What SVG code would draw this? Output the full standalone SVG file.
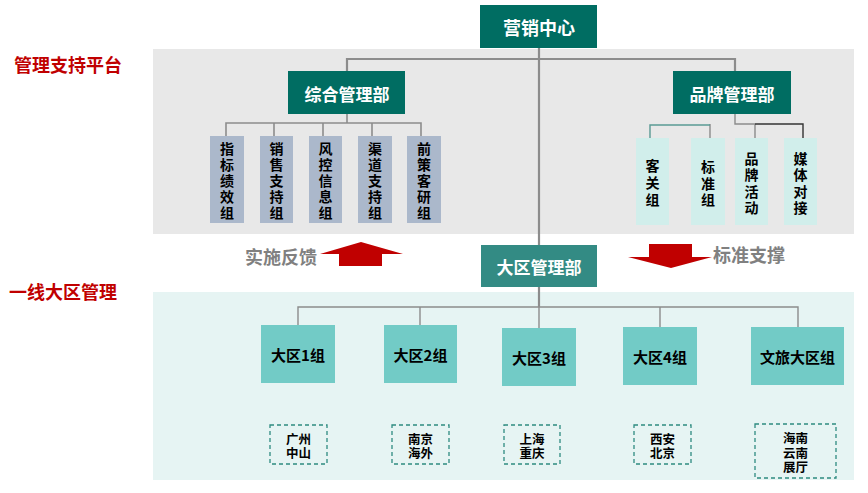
<svg xmlns="http://www.w3.org/2000/svg" width="868" height="493" viewBox="0 0 868 493">
<style>
text{font-family:"Noto Sans CJK SC","Liberation Sans",sans-serif;font-weight:bold;text-anchor:middle;dominant-baseline:central}
.dark{fill:#006D62}
.wt{fill:#fff;font-size:17px}
.sub{fill:#ABB8CB}
.cy{fill:#D1EEEB}
.reg{fill:#72CBC6}
.bk{fill:#000;font-size:14px}
.rt{fill:#000;font-size:15px}
.sm{fill:#000;font-size:12.5px}
.dash{fill:none;stroke:#2E8B80;stroke-width:1.3;stroke-dasharray:4,3}
.ln{stroke:#8C8C8C;fill:none}
.red{fill:#C00000;font-size:18px}
.gr{fill:#808080;font-size:18px}
</style>
<rect width="868" height="493" fill="#fff"/>
<rect x="153" y="49" width="701" height="185" fill="#E8E8E8"/>
<rect x="153" y="292" width="701" height="188" fill="#E6F4F3"/>
<text class="red" x="68" y="64">管理支持平台</text>
<text class="red" x="63" y="291">一线大区管理</text>
<text class="gr" x="281" y="256">实施反馈</text>
<text class="gr" x="749" y="254">标准支撑</text>
<polygon points="320,254 361,242 403,254 382,254 382,266 339,266 339,254" fill="#C00000"/>
<polygon points="649,244 692,244 692,257 712,257 671,268 628,257 649,257" fill="#C00000"/>
<g id="connectors">
<path class="ln" stroke-width="2.2" d="M539,48V245M539,287V307M347,71V59H735V71"/>
<path class="ln" stroke-width="1.6" d="M347,114V123M226,136V123H421V136M274,123V136M323,123V136M372,123V136"/>
<path class="ln" stroke-width="1.4" d="M735,114V124H755M710,124V138M755,124V138"/>
<path stroke="#5A9A94" stroke-width="1.4" fill="none" d="M650,138V125H710"/>
<path stroke="#333" stroke-width="1.4" fill="none" d="M755,124H803V138"/>
<path class="ln" stroke-width="1.4" d="M298,325V307H798V327M420,307V325M539,307V328M660,307V327"/>
</g>
<g id="n-yxzx"><rect class="dark" x="480" y="5" width="117" height="43"/><text class="wt" x="539" y="27" style="font-size:18px">营销中心</text></g>
<g id="n-zhglb"><rect class="dark" x="288" y="71" width="117" height="43"/><text class="wt" x="347" y="93">综合管理部</text></g>
<g id="n-ppglb"><rect class="dark" x="673" y="71" width="118" height="43"/><text class="wt" x="732" y="93">品牌管理部</text></g>
<g id="n-zb"><rect class="sub" x="210" y="136" width="34" height="87"/><text class="bk" x="227" y="148">指</text><text class="bk" x="227" y="164">标</text><text class="bk" x="227" y="180">绩</text><text class="bk" x="227" y="196">效</text><text class="bk" x="227" y="212">组</text></g>
<g id="n-xs"><rect class="sub" x="260" y="136" width="33" height="87"/><text class="bk" x="276.5" y="148">销</text><text class="bk" x="276.5" y="164">售</text><text class="bk" x="276.5" y="180">支</text><text class="bk" x="276.5" y="196">持</text><text class="bk" x="276.5" y="212">组</text></g>
<g id="n-fk"><rect class="sub" x="309" y="136" width="33" height="87"/><text class="bk" x="325.5" y="148">风</text><text class="bk" x="325.5" y="164">控</text><text class="bk" x="325.5" y="180">信</text><text class="bk" x="325.5" y="196">息</text><text class="bk" x="325.5" y="212">组</text></g>
<g id="n-qd"><rect class="sub" x="358" y="136" width="34" height="87"/><text class="bk" x="375" y="148">渠</text><text class="bk" x="375" y="164">道</text><text class="bk" x="375" y="180">支</text><text class="bk" x="375" y="196">持</text><text class="bk" x="375" y="212">组</text></g>
<g id="n-qc"><rect class="sub" x="407" y="136" width="34" height="87"/><text class="bk" x="424" y="148">前</text><text class="bk" x="424" y="164">策</text><text class="bk" x="424" y="180">客</text><text class="bk" x="424" y="196">研</text><text class="bk" x="424" y="212">组</text></g>
<g id="n-kg"><rect class="cy" x="636" y="138" width="33" height="87"/><text class="bk" x="652.5" y="165">客</text><text class="bk" x="652.5" y="182">关</text><text class="bk" x="652.5" y="199">组</text></g>
<g id="n-bz"><rect class="cy" x="691" y="138" width="34" height="87"/><text class="bk" x="708" y="166">标</text><text class="bk" x="708" y="183">准</text><text class="bk" x="708" y="199">组</text></g>
<g id="n-pp"><rect class="cy" x="735" y="138" width="33" height="87"/><text class="bk" x="751.5" y="158">品</text><text class="bk" x="751.5" y="174">牌</text><text class="bk" x="751.5" y="191">活</text><text class="bk" x="751.5" y="207">动</text></g>
<g id="n-mt"><rect class="cy" x="784" y="138" width="33" height="87"/><text class="bk" x="800.5" y="158">媒</text><text class="bk" x="800.5" y="174">体</text><text class="bk" x="800.5" y="191">对</text><text class="bk" x="800.5" y="207">接</text></g>
<g id="n-dqglb"><rect x="481" y="245" width="116" height="42" fill="#338B84"/><text class="wt" x="539" y="266">大区管理部</text></g>
<g id="n-dq1"><rect class="reg" x="261" y="325" width="74" height="58"/><text class="rt" x="298" y="354">大区1组</text></g>
<g id="n-dq2"><rect class="reg" x="384" y="325" width="73" height="58"/><text class="rt" x="420.5" y="354">大区2组</text></g>
<g id="n-dq3"><rect class="reg" x="502" y="328" width="74" height="58"/><text class="rt" x="539" y="357">大区3组</text></g>
<g id="n-dq4"><rect class="reg" x="623" y="327" width="74" height="58"/><text class="rt" x="660" y="356">大区4组</text></g>
<g id="n-wl"><rect class="reg" x="751" y="327" width="93" height="58"/><text class="rt" x="797.5" y="356">文旅大区组</text></g>
<g id="n-gz"><rect class="dash" x="270" y="425" width="57" height="39"/><text class="sm" x="298.5" y="438">广州</text><text class="sm" x="298.5" y="452">中山</text></g>
<g id="n-nj"><rect class="dash" x="392" y="425" width="57" height="39"/><text class="sm" x="420.5" y="438">南京</text><text class="sm" x="420.5" y="452">海外</text></g>
<g id="n-sh"><rect class="dash" x="504" y="425" width="56" height="39"/><text class="sm" x="532" y="438">上海</text><text class="sm" x="532" y="452">重庆</text></g>
<g id="n-xa"><rect class="dash" x="634" y="425" width="57" height="39"/><text class="sm" x="662.5" y="438">西安</text><text class="sm" x="662.5" y="452">北京</text></g>
<g id="n-hn"><rect class="dash" x="755" y="424" width="81" height="54"/><text class="sm" x="795.5" y="437">海南</text><text class="sm" x="795.5" y="452">云南</text><text class="sm" x="795.5" y="466">展厅</text></g>
</svg>
